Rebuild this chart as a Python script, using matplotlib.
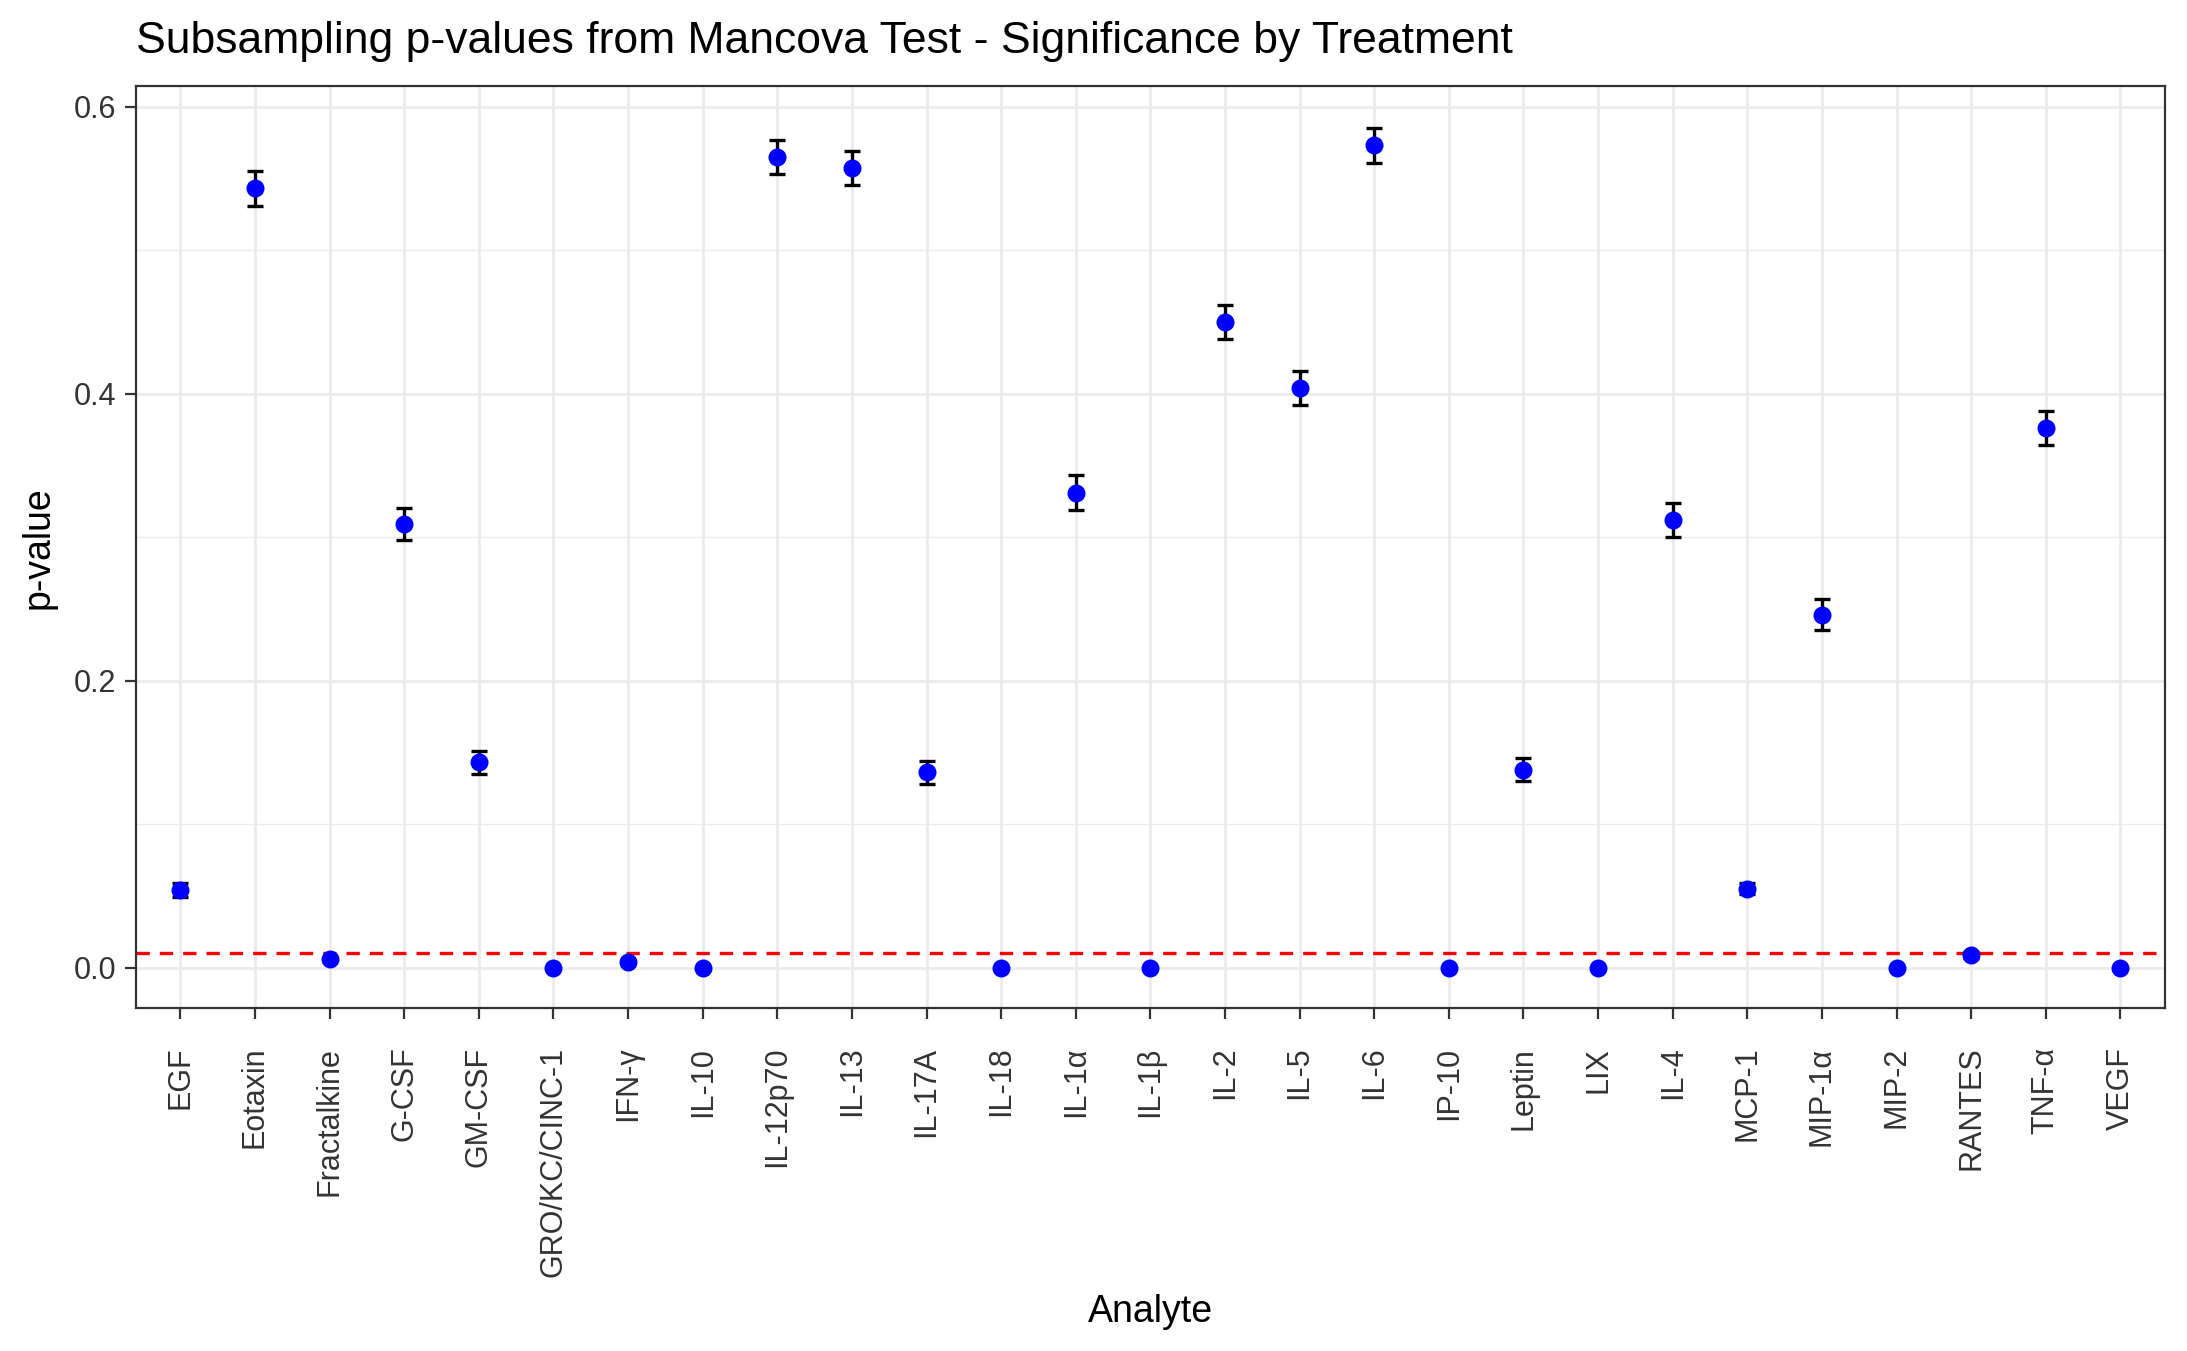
import numpy as np
import matplotlib.pyplot as plt

plt.rcParams['font.family'] = ['Liberation Sans', 'DejaVu Sans']

analytes = ["EGF", "Eotaxin", "Fractalkine", "G-CSF", "GM-CSF", "GRO/KC/CINC-1", "IFN-γ",
            "IL-10", "IL-12p70", "IL-13", "IL-17A", "IL-18", "IL-1α", "IL-1β", "IL-2", "IL-5",
            "IL-6", "IP-10", "Leptin", "LIX", "IL-4", "MCP-1", "MIP-1α", "MIP-2", "RANTES",
            "TNF-α", "VEGF"]
pvals = [0.054, 0.543, 0.006, 0.309, 0.143, 0.0, 0.004, 0.0, 0.565, 0.557, 0.136, 0.0, 0.331,
         0.0, 0.450, 0.404, 0.573, 0.0, 0.138, 0.0, 0.312, 0.055, 0.246, 0.0, 0.009, 0.376, 0.0]
errs = [0.005, 0.012, 0.001, 0.011, 0.008, 0.0, 0.001, 0.0, 0.012, 0.012, 0.008, 0.0, 0.012,
        0.0, 0.012, 0.012, 0.012, 0.0, 0.008, 0.0, 0.012, 0.004, 0.011, 0.0, 0.002, 0.012, 0.0]
threshold = 0.01

fig = plt.figure(figsize=(10.935, 6.755), dpi=200)
ax = fig.add_axes([0.062, 0.254, 0.928, 0.682])
x = np.arange(len(analytes))
ax.errorbar(x, pvals, yerr=errs, fmt='none', ecolor='black', elinewidth=1.2, capsize=3, capthick=1.2, zorder=3)
ax.scatter(x, pvals, color='blue', s=30, zorder=4)
ax.axhline(threshold, color='red', linestyle=(0, (4, 3)), linewidth=1.2, zorder=2)

ax.set_xlim(-0.6, len(analytes) - 0.4)
ax.set_ylim(-0.028, 0.614)
ax.set_xticks(x)
ax.set_xticklabels(analytes, rotation=90, fontsize=11, color='#333333')
ax.set_yticks([0.0, 0.2, 0.4, 0.6])
ax.set_yticklabels(["0.0", "0.2", "0.4", "0.6"], fontsize=11, color='#333333')
ax.set_yticks([0.1, 0.3, 0.5], minor=True)
ax.grid(True, which='major', color='#ebebeb', linewidth=1.0)
ax.grid(True, which='minor', axis='y', color='#ebebeb', linewidth=0.5)
ax.set_axisbelow(True)
ax.tick_params(axis='x', which='major', length=4, color='#333333', pad=10)
ax.tick_params(axis='y', which='major', length=4, color='#333333', pad=3)
ax.tick_params(axis='y', which='minor', length=0)
for s in ax.spines.values():
    s.set_color('#333333')
    s.set_linewidth(0.8)
ax.set_xlabel("Analyte", fontsize=13.5, labelpad=6)
ax.set_ylabel("p-value", fontsize=13.5, labelpad=6)
ax.set_title("Subsampling p-values from Mancova Test - Significance by Treatment", fontsize=16, loc='left', x=0.0, pad=12)

fig.savefig("out.png", dpi=200)
